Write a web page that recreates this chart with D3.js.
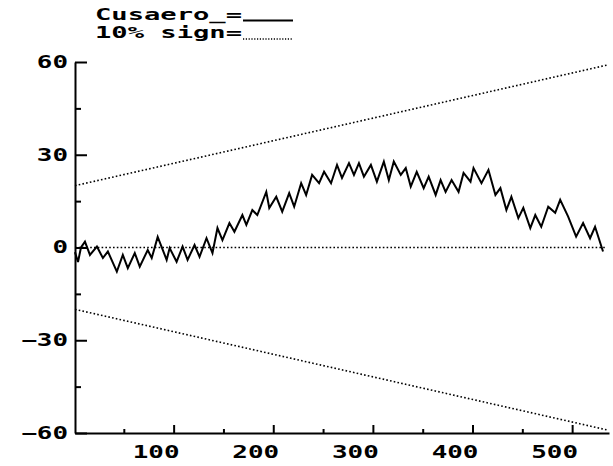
<!DOCTYPE html>
<html><head><meta charset="utf-8">
<script src="https://cdn.jsdelivr.net/npm/d3@7"></script>
<style>body{margin:0;background:#fff}svg{display:block}</style>
</head><body>
<script>
// ---- data ----
const obsX = [1, 4, 7, 11, 16, 23, 29, 34, 43, 49, 54, 61, 66, 74, 78, 84, 93, 96, 103, 109, 114, 121, 126, 133, 139, 144, 149, 156, 161, 169, 173, 179, 184, 193, 196, 203, 209, 216, 221, 228, 233, 239, 246, 251, 258, 264, 269, 276, 281, 286, 291, 298, 304, 311, 316, 321, 328, 333, 338, 344, 351, 356, 363, 368, 373, 379, 386, 391, 398, 401, 409, 416, 423, 428, 434, 439, 446, 451, 458, 463, 469, 476, 483, 488, 496, 504, 511, 518, 523, 531];
const cusaero = [-1.5, -4.7, 0, 1.9, -2.4, 0.3, -3.4, -1.3, -7.8, -2.4, -6.7, -1.8, -6.2, -0.8, -3.4, 3.4, -4, -0.2, -4.6, 0.3, -4, 0.8, -3, 3, -1.8, 6.3, 2.4, 7.9, 5.1, 10.5, 7.3, 12.1, 10.5, 18, 12.8, 16.4, 11.6, 17.6, 13.2, 20.8, 17, 23.5, 20.8, 24.5, 20.8, 26.7, 22.5, 27.3, 23.5, 27.3, 22.9, 26.7, 21.3, 27.8, 21.8, 27.8, 23.5, 25.7, 19.7, 24.5, 19.2, 22.9, 17, 21.8, 18, 21.8, 18, 24.1, 21.3, 25.7, 20.8, 25.1, 17, 19.2, 12.1, 16.4, 9.5, 12.8, 6.3, 10.5, 6.7, 13.2, 11.2, 15.4, 10, 3.5, 7.9, 3, 6.7, -1.3];
const boundX = [1, 535];
const upperBound = [20, 59];
const lowerBound = [-20, -59];
const zeroLine = [0, 0];
const yMajor = [-60, -30, 0, 30, 60];
const yMinor = [-45, -15, 15, 45];
const xMajor = [100, 200, 300, 400, 500];
const xMinor = [50, 150, 250, 350, 450];
const legendLabels = ["Cusaero_=", "10% sign="];

// ---- chart ----
const W = 613, H = 466;
const svg = d3.select("body").append("svg").attr("width", W).attr("height", H);
const x = d3.scaleLinear().domain([1, 537]).range([75, 609]);
const y = d3.scaleLinear().domain([-60, 60]).range([433, 62]);
const FONT = "'DejaVu Sans Mono', monospace";
const CH = 15.6;

function styleText(sel, size) {
  sel.attr("font-family", FONT).attr("font-weight", "bold").attr("font-size", size)
    .attr("fill", "#000")
    .each(function () {
      const t = this.textContent;
      if (t.length) d3.select(this).attr("textLength", t.length * CH).attr("lengthAdjust", "spacingAndGlyphs");
    });
}

// y axis
const gy = svg.append("g").attr("transform", `translate(${x(1)},0)`);
gy.call(d3.axisLeft(y).tickValues(yMajor).tickSize(-12).tickSizeOuter(0).tickPadding(7).tickFormat(d3.format("d")));
gy.append("g").call(d3.axisLeft(y).tickValues(yMinor).tickSize(-6).tickSizeOuter(0).tickFormat(""))
  .select(".domain").remove();
// x axis
const gx = svg.append("g").attr("transform", `translate(0,${y(-60)})`);
gx.call(d3.axisBottom(x).tickValues(xMajor).tickSize(-8).tickSizeOuter(0).tickFormat(d3.format("d")));
gx.append("g").call(d3.axisBottom(x).tickValues(xMinor).tickSize(-4).tickSizeOuter(0).tickFormat(""))
  .select(".domain").remove();
gx.selectAll("text").attr("x", -18).attr("y", 25).attr("dy", null);

svg.selectAll(".domain, .tick line").attr("stroke", "#000").attr("stroke-width", 2);
styleText(svg.selectAll(".tick text"), 17);

// dotted lines
const dotted = (vals) => d3.line().x((d, i) => x(boundX[i])).y(d => y(d))(vals);
[upperBound, lowerBound, zeroLine].forEach(v => {
  svg.append("path").attr("d", dotted(v)).attr("fill", "none").attr("stroke", "#000")
    .attr("stroke-width", 1.6).attr("stroke-dasharray", "1.6,2.2");
});

// series
svg.append("path").datum(obsX.map((d, i) => [d, cusaero[i]]))
  .attr("d", d3.line().x(d => x(d[0])).y(d => y(d[1])))
  .attr("fill", "none").attr("stroke", "#000").attr("stroke-width", 2).attr("stroke-linejoin", "miter");

// legend
const lg = svg.append("g");
lg.selectAll("text").data(legendLabels).join("text")
  .attr("x", 95).attr("y", (d, i) => 19.5 + i * 18).text(d => d);
styleText(lg.selectAll("text"), 15);
lg.selectAll("text").attr("textLength", 147);
lg.append("line").attr("x1", 243).attr("x2", 293).attr("y1", 20.5).attr("y2", 20.5)
  .attr("stroke", "#000").attr("stroke-width", 2);
lg.append("line").attr("x1", 243).attr("x2", 293).attr("y1", 39).attr("y2", 39)
  .attr("stroke", "#000").attr("stroke-width", 1.4).attr("stroke-dasharray", "1.2,1.6");
</script>
</body></html>
